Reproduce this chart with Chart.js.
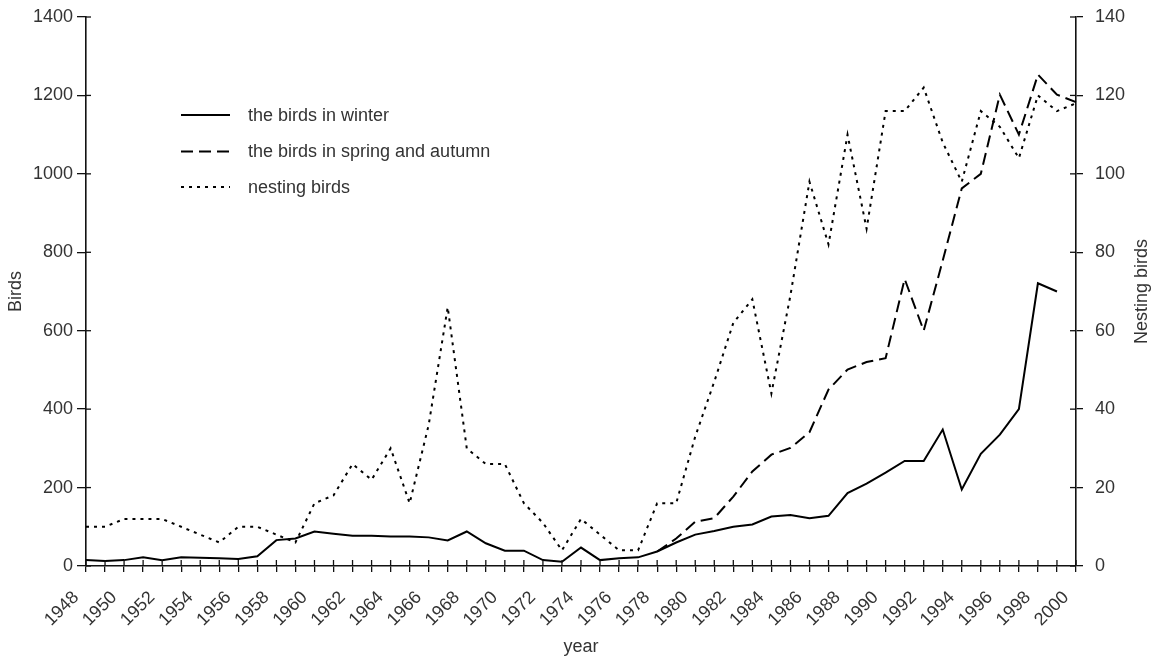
<!DOCTYPE html>
<html><head><meta charset="utf-8">
<script src="https://cdn.jsdelivr.net/npm/chart.js@4/dist/chart.umd.min.js"></script>
<style>html,body{margin:0;padding:0;background:#fff;}#wrap{width:1154px;height:658px;}</style>
</head><body><div id="wrap"><canvas id="c" width="1154" height="658"></canvas></div>
<script>
const years = ['1948','1949','1950','1951','1952','1953','1954','1955','1956','1957','1958','1959','1960','1961','1962','1963','1964','1965','1966','1967','1968','1969','1970','1971','1972','1973','1974','1975','1976','1977','1978','1979','1980','1981','1982','1983','1984','1985','1986','1987','1988','1989','1990','1991','1992','1993','1994','1995','1996','1997','1998','1999','2000'];

const winterBirds = [15,13,15,22,15,22,21,20,18,25,66,70,88,82,77,77,75,75,73,65,88,58,39,39,15,11,47,15,20,22,37,60,80,89,100,106,126,130,122,128,186,210,238,268,268,348,195,286,335,400,721,700,null];

const springAutumnBirds = [null,null,null,null,null,null,null,null,null,null,null,null,null,null,null,null,null,null,null,null,null,null,null,null,null,null,null,null,null,null,37,70,113,122,177,241,284,301,341,450,501,520,530,732,600,779,963,1000,1202,1100,1253,1202,1183];

const nestingBirds = [10,10,12,12,12,10,8,6,10,10,8,6,16,18,26,22,30,16,36,66,30,26,26,16,11,4,12,8,4,4,16,16,33,47,62,68,44,69,98,82,110,86,116,116,122,108,98,116,112,104,120,116,118];

const birdTicks = [0,200,400,600,800,1000,1200,1400];
const nestTicks = [0,20,40,60,80,100,120,140];

const FONT = 'Liberation Sans, Arial, Helvetica, sans-serif';
const TXT = '#333';

const extras = {
  id: 'extras',
  afterDraw(chart) {
    const ctx = chart.ctx, a = chart.chartArea;
    ctx.save();
    ctx.strokeStyle = '#111';
    ctx.lineWidth = 1.3;
    const sx = chart.scales.x;
    sx.ticks.forEach((t, i) => {
      const px = sx.getPixelForTick(i);
      ctx.beginPath(); ctx.moveTo(px, a.bottom); ctx.lineTo(px, a.bottom - 6); ctx.stroke();
    });
    const sy = chart.scales.y;
    sy.ticks.forEach((t, i) => {
      const py = sy.getPixelForTick(i);
      ctx.beginPath(); ctx.moveTo(a.left, py); ctx.lineTo(a.left + 5, py); ctx.stroke();
    });
    const sy1 = chart.scales.y1;
    sy1.ticks.forEach((t, i) => {
      const py = sy1.getPixelForTick(i);
      ctx.beginPath(); ctx.moveTo(a.right, py); ctx.lineTo(a.right - 6, py); ctx.stroke();
    });
    // legend
    const rows = [115, 151.5, 187];
    chart.data.datasets.forEach((ds, i) => {
      const y = rows[i];
      ctx.setLineDash(ds.borderDash || []);
      ctx.lineWidth = ds.borderWidth;
      ctx.strokeStyle = ds.borderColor;
      ctx.beginPath(); ctx.moveTo(181, y); ctx.lineTo(230, y); ctx.stroke();
      ctx.setLineDash([]);
      ctx.fillStyle = TXT;
      ctx.font = '18px ' + FONT;
      ctx.textAlign = 'left'; ctx.textBaseline = 'middle';
      ctx.fillText(ds.label, 248, y + 1);
    });
    // right axis title (reads bottom to top)
    ctx.save();
    ctx.translate(1142, (a.top + a.bottom) / 2);
    ctx.rotate(-Math.PI / 2);
    ctx.font = '18px ' + FONT;
    ctx.fillStyle = TXT;
    ctx.textAlign = 'center'; ctx.textBaseline = 'middle';
    ctx.fillText('Nesting birds', 0, 0);
    ctx.restore();
    ctx.restore();
  }
};

new Chart(document.getElementById('c'), {
  type: 'line',
  data: {
    labels: years,
    datasets: [
      { label: 'the birds in winter', data: winterBirds, yAxisID: 'y', borderColor: '#000', borderWidth: 2, borderDash: [], pointRadius: 0, tension: 0, fill: false },
      { label: 'the birds in spring and autumn', data: springAutumnBirds, yAxisID: 'y', borderColor: '#000', borderWidth: 2, borderDash: [12, 6], pointRadius: 0, tension: 0, fill: false },
      { label: 'nesting birds', data: nestingBirds, yAxisID: 'y1', borderColor: '#000', borderWidth: 2, borderDash: [3, 5], pointRadius: 0, tension: 0, fill: false }
    ]
  },
  options: {
    responsive: false,
    animation: false,
    devicePixelRatio: 1,
    layout: { padding: { top: 17, left: 0, right: 0, bottom: 0 } },
    plugins: { legend: { display: false }, tooltip: { enabled: false } },
    scales: {
      x: {
        type: 'category',
        offset: false,
        grid: { drawOnChartArea: false, drawTicks: true, tickLength: 6, color: '#111', lineWidth: 1.3 },
        border: { display: true, color: '#111', width: 1.6 },
        ticks: {
          autoSkip: false, maxRotation: 45, minRotation: 45, labelOffset: -10, padding: 15,
          color: TXT, font: { family: FONT, size: 18 },
          callback: (v, i) => (i % 2 === 0 ? years[i] : '')
        },
        title: { display: true, text: 'year', color: TXT, font: { family: FONT, size: 18 }, padding: { top: 0, bottom: 0 } },
        afterFit: (s) => { s.height = 92; }
      },
      y: {
        position: 'left', min: 0, max: 1400,
        afterBuildTicks: (s) => { s.ticks = birdTicks.map(v => ({ value: v })); },
        grid: { drawOnChartArea: false, drawTicks: true, tickLength: 9, color: '#111', lineWidth: 1.3 },
        border: { display: true, color: '#111', width: 1.6 },
        ticks: { color: TXT, font: { family: FONT, size: 18 }, padding: 4, callback: (v) => String(v) },
        title: { display: true, text: 'Birds', color: TXT, font: { family: FONT, size: 18 }, padding: { top: 5, bottom: 0 } },
        afterFit: (s) => { s.width = 86; s.paddingTop = 0; s.paddingBottom = 0; }
      },
      y1: {
        position: 'right', min: 0, max: 140,
        afterBuildTicks: (s) => { s.ticks = nestTicks.map(v => ({ value: v })); },
        grid: { drawOnChartArea: false, drawTicks: true, tickLength: 7, color: '#111', lineWidth: 1.3 },
        border: { display: true, color: '#111', width: 1.6 },
        ticks: { color: TXT, font: { family: FONT, size: 18 }, padding: 12, callback: (v) => String(v) },
        title: { display: false },
        afterFit: (s) => { s.width = 78; s.paddingTop = 0; s.paddingBottom = 0; }
      }
    }
  },
  plugins: [extras]
});
</script></body></html>
